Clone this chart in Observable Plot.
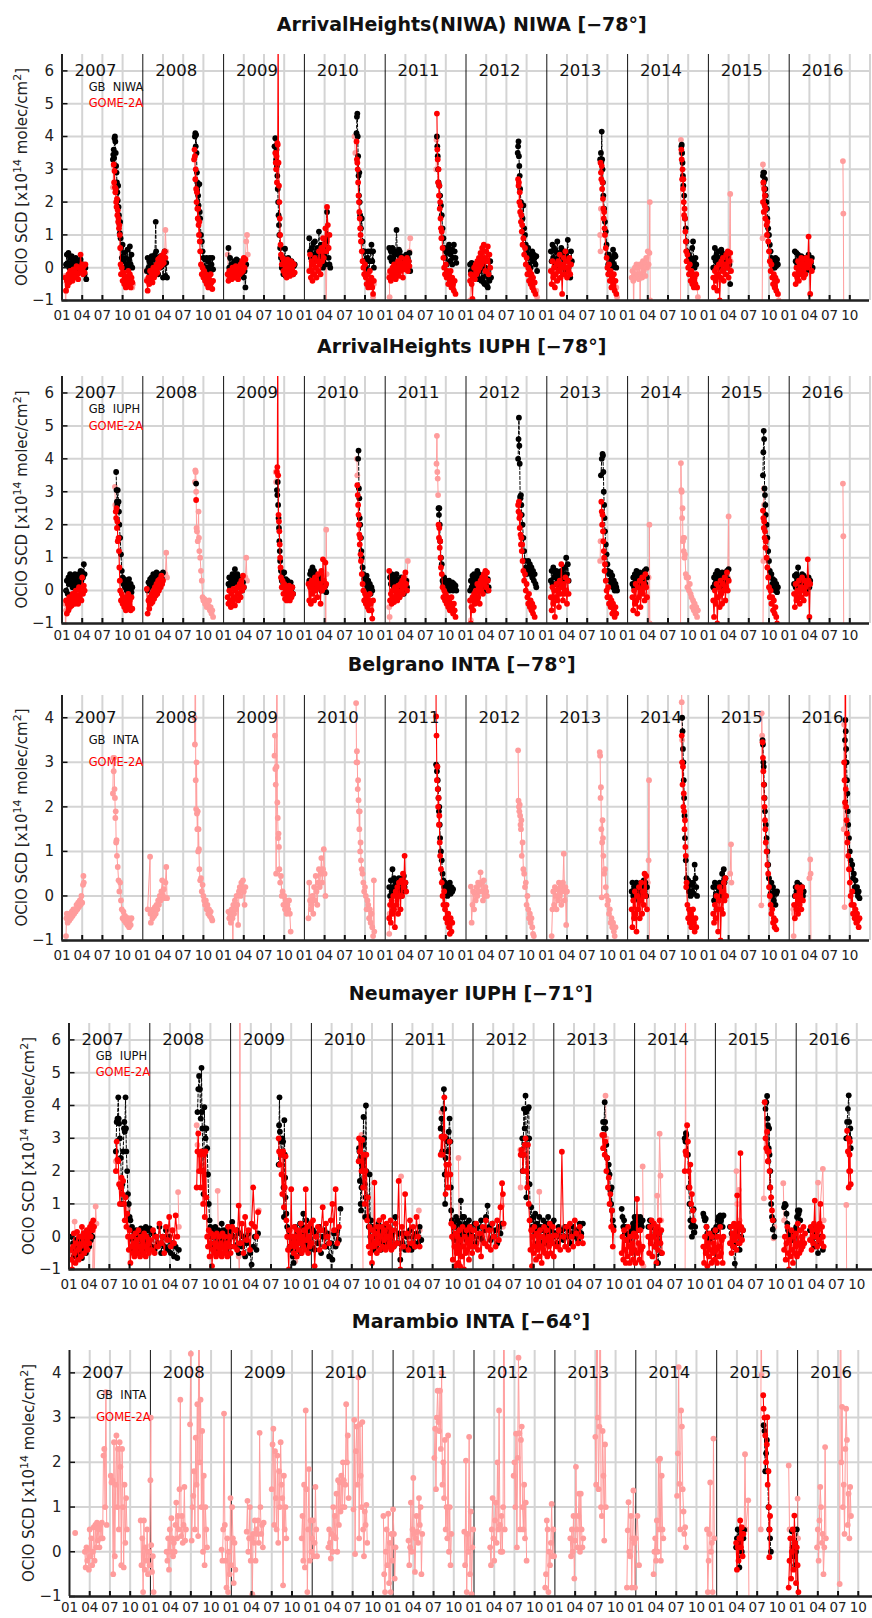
<!DOCTYPE html>
<html><head><meta charset="utf-8">
<script src="https://cdn.jsdelivr.net/npm/d3@7"></script>
<script src="https://cdn.jsdelivr.net/npm/@observablehq/plot@0.6"></script>
<style>
body{margin:0;background:#fff;}
#chart svg{display:block;overflow:hidden;}
</style></head><body><div id="chart"></div>
<script>
// ---------- DATA (segments: [year, yearFraction, value, yearFraction, value, ...]) ----------
const years = [2007,2008,2009,2010,2011,2012,2013,2014,2015,2016];
const monthLabels = ["01","04","07","10"];

// Panel 1: ArrivalHeights(NIWA) NIWA
const p1GB = [
[2007,.05,.1,.06,.4,.07,.15,.08,.45,.09,0,.10,.3,.11,.1,.12,.35,.13,0,.14,.2,.15,.05,.16,.1,.17,.3,.18,.15,.19,-.05,.20,.2,.21,.1,.22,0,.23,.25,.24,.1,.25,-.1,.26,.1,.27,-.05,.28,-.2,.29,0,.30,-.35],
[2007,.63,3.3,.635,3.45,.64,3.6,.645,3.35,.65,3.95,.655,4.0,.66,3.85,.665,3.5,.67,3.1,.675,2.9,.68,2.6,.685,2.3,.69,2.05,.695,2.5,.70,1.85,.705,1.6,.71,1.35,.715,1.05,.72,1.4,.725,.9,.73,.6,.74,.3,.75,.7,.76,.2,.77,.45,.78,0,.79,.3,.80,.1,.81,.55,.82,0,.83,.25,.84,.65,.85,.1,.86,.4,.87,0],
[2008,.05,-.1,.06,.3,.07,0,.08,.2,.09,-.2,.10,.1,.11,.35,.12,0,.13,.25,.14,-.1,.15,.4,.16,1.4,.165,.5,.17,.1,.18,.3,.19,-.2,.20,.2,.21,0,.22,.35,.23,.05,.24,.3,.25,-.3,.26,.1,.27,.5,.28,-.25,.29,.15,.30,-.3],
[2008,.645,4.0,.65,4.1,.655,3.7,.66,4.05,.665,3.5,.67,2.9,.675,2.6,.68,2.5,.685,2.2,.69,1.9,.70,2.55,.705,1.7,.71,1.5,.72,1.0,.73,.8,.74,.5,.75,.3,.76,0,.77,.25,.78,-.1,.79,.3,.80,0,.81,.2,.82,-.2,.83,.3,.84,-.1,.85,.1,.86,.3,.87,-.05],
[2009,.06,.6,.07,0,.08,.3,.09,-.1,.10,.1,.11,-.2,.12,.05,.13,.2,.14,-.1,.15,.1,.16,.25,.17,-.3,.18,0,.19,.2,.20,.15,.21,-.2,.22,.1,.23,0,.24,.2,.25,-.3,.26,-.1,.27,-.6,.28,.1],
[2009,.63,3.7,.64,3.95,.645,3.5,.65,3.3,.655,3.6,.66,3.1,.665,2.8,.67,2.4,.675,2.0,.68,1.6,.685,1.3,.69,1.0,.70,.6,.71,.3,.72,0,.73,.2,.74,-.2,.75,.1,.76,.58,.77,-.25,.78,0,.79,.2,.80,.3,.81,-.1,.82,-.1,.83,.1,.84,.2,.85,-.1,.86,-.2,.87,.05,.88,.1],
[2010,.06,.9,.07,.5,.08,.3,.09,.6,.10,.2,.11,.75,.12,.4,.13,.8,.14,.3,.15,.45,.16,.6,.17,.2,.18,1.1,.19,.5,.20,.2,.21,.7,.22,.35,.23,0,.24,.5,.25,.4,.26,.1,.27,.8,.28,1.7,.29,.6,.30,.3,.31,.1,.32,0],
[2010,.645,4.1,.65,4.6,.655,4.7,.66,4.0,.665,3.4,.67,2.8,.675,2.2,.68,2.9,.685,2.0,.69,1.6,.70,1.2,.71,1.5,.72,.8,.73,.5,.74,.2,.75,.5,.76,0,.77,.2,.78,.3,.79,.5,.80,-.1,.81,.2,.82,.5,.83,.7,.84,.2,.85,.5,.86,0],
[2011,.05,.6,.06,.3,.07,.5,.08,.2,.09,.6,.10,.3,.11,.45,.12,.1,.13,.5,.14,1.15,.15,.4,.16,.2,.17,.55,.18,.5,.19,.1,.20,.35,.21,.3,.22,.05,.23,0,.24,.2,.25,.35,.26,.4,.27,.1,.28,.3,.29,.2,.30,.45,.31,-.1],
[2011,.64,4.0,.645,3.7,.65,3.4,.655,3.0,.66,2.6,.67,2.5,.68,2.2,.69,1.9,.70,1.6,.71,1.2,.72,.9,.73,.6,.74,.3,.75,.5,.76,.1,.77,.6,.78,.45,.79,.7,.80,.2,.81,.4,.82,.55,.83,.1,.84,.3,.85,.7,.86,.5,.87,.3,.88,.15],
[2012,.05,.1,.06,-.1,.07,.15,.08,-.2,.09,.05,.10,-.3,.11,.1,.12,-.1,.13,0,.14,-.2,.15,.15,.16,-.35,.17,-.1,.18,.1,.19,-.4,.20,.1,.21,-.3,.22,-.45,.23,-.5,.24,0,.25,-.2,.26,-.55,.27,-.6,.28,-.3,.29,-.4,.30,.2,.31,-.3],
[2012,.64,3.5,.645,3.7,.65,3.85,.655,3.4,.66,3.1,.665,2.8,.67,2.4,.68,2.0,.69,1.9,.70,1.5,.71,1.9,.72,1.2,.73,1.0,.74,.7,.75,.5,.76,.3,.77,.6,.78,.1,.79,.4,.80,0,.81,.3,.82,.5,.83,.2,.84,.4,.85,.3,.86,.1,.87,.35,.88,-.1],
[2013,.05,.5,.06,.2,.07,.7,.08,.3,.09,.6,.10,.1,.11,.5,.12,.2,.13,.8,.14,.3,.15,0,.16,.45,.17,.4,.18,.6,.19,.1,.20,.3,.21,.5,.22,.25,.23,-.1,.24,.4,.25,.3,.26,.85,.27,0,.28,.2,.29,-.3,.30,.5,.31,.2],
[2013,.66,3.3,.67,3.5,.675,3.2,.68,4.15,.685,3.3,.69,3.0,.695,2.6,.70,2.2,.71,1.8,.72,1.4,.73,1.1,.74,.7,.75,.4,.76,.1,.77,.4,.78,-.1,.79,.3,.80,0,.81,.2,.82,.55,.83,.1,.84,.4,.85,.35,.86,0],
[2014,.665,3.7,.67,3.75,.675,3.5,.68,3.2,.685,2.8,.69,2.5,.70,2.2,.71,1.5,.72,1.2,.73,.8,.74,.5,.75,.2,.76,.4,.77,0,.78,.3,.79,.1,.80,.6,.81,.8,.82,.2,.83,0,.84,.3,.85,.1],
[2015,.06,0,.07,.3,.08,.6,.09,.2,.10,.4,.11,.1,.12,.5,.13,0,.14,.3,.15,.2,.16,.55,.17,.45,.18,.2,.19,.1,.20,.4,.21,.35,.22,.15,.23,0,.24,.3,.25,.2,.26,.1,.27,-.5],
[2015,.675,2.8,.68,2.9,.685,2.6,.69,2.9,.70,2.7,.705,2.4,.71,2.2,.72,2.0,.725,1.8,.73,1.5,.74,1.2,.75,1.0,.76,.7,.77,.5,.78,.3,.79,.1,.80,0,.81,.2,.82,0,.83,.3,.84,.05,.85,.25,.86,.1],
[2016,.07,.5,.08,.2,.09,.45,.10,.1,.11,.4,.12,0,.13,.3,.14,.1,.15,.35,.16,.2,.17,0,.18,.3,.19,.25,.20,.1,.21,-.1,.22,.3,.23,.2,.24,.4,.25,-.05,.26,.2,.27,.15,.28,.3,.29,0]
];
const p1GOME = [
[2007,.04,-.3,.05,-.7,.06,-.4,.07,-.55,.08,-.2,.09,-.45,.10,-.1,.11,-.35,.12,-.15,.13,-.4,.14,-.05,.15,-.3,.16,-.1,.17,-.25,.18,.05,.19,-.2,.20,-.35,.21,0,.22,-.15,.23,.4,.24,-.1,.25,.1,.26,-.2,.27,.05,.28,-.15,.29,.1],
[2007,.64,3.15,.645,2.6,.65,2.95,.655,2.45,.66,2.3,.665,2.4,.67,2.0,.675,1.85,.68,2.1,.685,1.6,.69,1.75,.695,1.4,.70,1.5,.705,1.2,.71,1.3,.715,1.0,.72,.6,.725,.1,.73,-.2,.74,0,.75,-.4,.76,-.15,.77,-.5,.78,-.25,.79,-.6,.80,-.3,.81,-.45,.82,-.1,.83,-.5,.84,-.2,.85,-.6,.86,-.3,.87,-.45],
[2008,.05,-.4,.06,-.7,.07,-.3,.08,-.5,.09,-.1,.10,-.35,.11,-.2,.12,-.45,.13,0,.14,-.3,.15,-.1,.16,-.2,.17,.1,.18,-.15,.19,.25,.20,0,.21,.3,.22,.05,.23,.35,.24,.1,.25,.4,.26,.15,.27,.5,.28,.3],
[2008,.635,3.3,.64,3.6,.645,3.4,.65,2.7,.655,3.0,.66,2.4,.665,2.0,.67,2.3,.675,1.8,.68,1.5,.685,1.8,.69,1.3,.695,1.0,.70,1.4,.705,.8,.71,.5,.72,.1,.73,-.2,.74,0,.75,-.3,.76,-.1,.77,-.4,.78,-.2,.79,-.5,.80,-.3,.81,-.6,.82,-.35,.83,-.5,.84,-.2,.85,-.45,.86,-.65,.87,-.4],
[2009,.05,-.2,.06,-.4,.07,-.1,.08,-.3,.09,-.15,.10,-.35,.11,0,.12,-.25,.13,-.1,.14,-.3,.15,.05,.16,-.2,.17,-.1,.18,-.35,.19,0,.20,-.2,.21,.1,.22,-.15,.23,.2,.24,-.1,.25,.3,.26,0,.27,.25],
[2009,.64,3.5,.645,3.2,.65,3.0,.655,3.4,.66,2.6,.665,3.8,.67,3.75,.675,8,.68,3.2,.685,2.5,.69,2.0,.695,1.5,.70,1.0,.705,.7,.71,.4,.72,.1,.73,.3,.74,-.1,.75,.2,.76,-.2,.77,.1,.78,-.3,.79,.25,.80,-.1,.81,.1,.82,-.25,.83,.2,.84,-.1,.85,.15,.86,-.2,.87,.1,.88,-.15],
[2010,.06,-.1,.07,.4,.08,-.3,.09,.2,.10,-.4,.11,.1,.12,-.2,.13,.3,.14,0,.15,-.3,.16,.2,.17,-.1,.18,.5,.19,.1,.20,-.2,.21,.6,.22,.2,.23,.9,.24,.3,.25,.7,.26,1.2,.27,.5,.28,1.85,.29,1.3,.30,.6,.31,1.0],
[2010,.645,3.85,.65,3.3,.655,3.2,.66,3.0,.665,2.6,.67,2.2,.675,2.0,.68,1.7,.685,1.5,.69,1.2,.695,1.0,.70,.8,.71,.5,.72,.2,.73,0,.74,-.2,.75,.1,.76,-.3,.77,-.5,.78,-.2,.79,-.6,.80,-.4,.81,-.1,.82,-.5,.83,-.3,.84,-.6,.85,-.8,.86,-.4],
[2011,.05,-.3,.06,-.1,.07,-.4,.08,-.2,.09,0,.10,-.3,.11,.1,.12,-.2,.13,-.35,.14,0,.15,-.1,.16,.2,.17,-.25,.18,.1,.19,-.1,.20,.3,.21,0,.22,-.3,.23,.15,.24,-.05,.25,.25,.26,0,.27,.3,.28,-.1,.29,.2,.30,.05],
[2011,.64,4.7,.645,3.6,.65,3.3,.655,2.6,.66,3.0,.665,2.2,.67,2.5,.675,1.8,.68,2.0,.685,1.5,.69,1.2,.695,.9,.70,1.1,.71,.6,.72,.3,.73,0,.74,-.2,.75,.1,.76,-.3,.77,-.1,.78,-.5,.79,-.2,.80,-.4,.81,-.1,.82,-.6,.83,-.3,.84,-.5,.85,-.7,.86,-.4,.87,-.8],
[2012,.05,-.4,.06,-.2,.07,-.5,.08,-.95,.09,-.3,.10,0,.11,-.35,.12,.1,.13,-.2,.14,.2,.15,-.1,.16,.3,.17,0,.18,.45,.19,.1,.20,.6,.21,.2,.22,.7,.23,.3,.24,-.1,.25,.5,.26,.2,.27,.65,.28,-.2,.29,.4,.30,0],
[2012,.645,2.7,.65,2.5,.655,2.6,.66,2.0,.665,2.3,.67,1.7,.675,1.9,.68,1.4,.685,1.6,.69,1.1,.695,1.3,.70,.7,.71,.9,.72,.4,.73,.6,.74,.1,.75,.3,.76,-.2,.77,0,.78,-.4,.79,-.1,.80,-.5,.81,-.2,.82,-.6,.83,-.3,.84,-.7,.85,-.45,.86,-.8],
[2013,.05,-.1,.06,-.5,.07,.2,.08,-.3,.09,0,.10,-.6,.11,-.2,.12,.1,.13,-.4,.14,.2,.15,-.1,.16,.4,.17,-.3,.18,.1,.19,-.8,.20,0,.21,.3,.22,-.2,.23,.5,.24,0,.25,-.3,.26,.2,.27,-.1,.28,.3,.29,-.2,.30,.1],
[2013,.665,3.2,.67,2.9,.675,2.7,.68,3.1,.685,2.4,.69,2.6,.695,2.1,.70,1.8,.705,1.5,.71,1.7,.715,1.2,.72,1.0,.73,.6,.74,.3,.75,0,.76,-.2,.77,.1,.78,-.4,.79,-.1,.80,-.6,.81,-.3,.82,-.5,.83,-.2,.84,-.7,.85,-.4,.86,-.8],
[2014,.665,3.6,.67,3.3,.675,2.7,.68,3.0,.685,2.4,.69,2.7,.695,2.0,.70,1.6,.705,1.8,.71,1.5,.715,1.1,.72,.8,.725,.5,.73,.2,.74,.4,.75,0,.76,-.2,.77,.1,.78,-.4,.79,-.1,.80,-.5,.81,-.2,.82,-.6,.83,-.3,.84,-.5,.85,-.2,.86,-.6],
[2015,.06,-.3,.07,-.6,.08,-.1,.09,-.4,.10,0,.11,-.7,.12,-.2,.13,.1,.14,-1.0,.15,-.3,.16,.2,.17,-.1,.18,.3,.19,-.4,.20,.1,.21,-.2,.22,.4,.23,0,.24,.5,.25,-.3,.26,.2,.27,.45,.28,-.1],
[2015,.675,2.0,.68,2.6,.685,1.7,.69,2.4,.695,1.9,.70,2.2,.705,1.5,.71,1.8,.72,1.3,.725,1.0,.73,1.4,.74,.8,.75,.5,.76,.2,.77,-.1,.78,.1,.79,-.3,.80,-.5,.81,-.2,.82,-.6,.83,-.3,.84,-.7,.85,-.4,.86,-.8],
[2016,.07,-.2,.08,-.5,.09,0,.10,-.3,.11,.2,.12,-.4,.13,.1,.14,-.2,.15,.3,.16,-.1,.17,.25,.18,-.3,.19,.1,.20,-.2,.21,.3,.22,0,.23,.2,.24,.95,.25,.1,.26,-.8,.27,.2,.28,-.1]
];
const p1All = [
[2007,.04,-.25,.045,-1.5,.05,-.7,.055,-.45],[2007,.63,2.45,.64,3.1],[2007,.86,-.35,.87,-.6,.88,-.5],
[2008,.04,-.1,.05,-.35],[2008,.27,.4,.28,1.15,.29,.5],
[2009,.05,.4,.06,-.3],[2009,.27,.3,.28,.8,.29,1.0,.30,.4],
[2010,.26,.3,.27,-1.5,.28,.8],[2010,.62,4.0,.63,3.5],[2010,.85,-.9,.86,-.5],
[2011,.05,-.2,.055,-.9,.06,-1.5],[2011,.30,.5,.31,.9],[2011,.63,3.0,.635,3.9],
[2012,.05,-1.0,.06,-.3],[2012,.87,-.7,.88,-.9],
[2013,.66,1.0,.665,.5,.67,1.8],[2013,.86,-.6,.87,-.9],
[2014,.05,-.3,.06,-.1,.07,-.4,.075,-1.5,.08,-.2,.09,0,.10,-.3,.11,.1,.12,-.2,.13,0,.14,-.35,.15,.1,.155,-1.5,.16,-.2,.17,.05,.18,-.3,.19,.2,.20,-.1,.21,.15,.22,-.25,.23,.3,.24,0,.25,.5,.26,.1,.27,.45,.275,2.0,.28,-1.0],
[2014,.655,-1.5,.66,3.9,.665,3.5],[2014,.86,-.6,.87,-.9],
[2015,.26,.3,.27,2.25,.275,.2],[2015,.665,-1.5,.67,.9,.675,3.15,.68,2.5],[2015,.86,-.8,.87,-1.0],
[2016,.665,3.25,.67,1.65,.675,-1.5]
];

// Panel 2: ArrivalHeights IUPH
const p2GB = [
[2007,.05,0,.06,.3,.07,-.1,.08,.4,.09,.2,.10,.5,.11,.25,.12,.45,.13,.1,.14,.4,.15,.2,.16,.5,.17,.3,.18,.1,.19,.45,.20,.2,.21,.5,.22,.25,.23,.6,.24,.3,.25,.55,.26,.4,.27,.8,.28,.5],
[2007,.67,3.6,.675,3.05,.68,2.7,.685,2.6,.69,3.05,.70,2.7,.705,2.4,.71,2.0,.72,1.6,.73,1.1,.74,.6,.75,.4,.76,.2,.77,.35,.78,.1,.79,.3,.80,0,.81,.2,.82,-.1,.83,.35,.84,.05,.85,.2,.86,-.05,.87,.1],
[2008,.06,0,.07,.25,.08,.1,.09,.35,.10,.15,.11,.4,.12,.2,.13,.5,.14,.3,.15,.45,.16,.2,.17,.55,.18,.35,.19,.5,.20,.3,.21,.45,.22,.25,.23,.5,.24,.35,.25,.55],
[2008,.66,3.25],
[2009,.06,.2,.07,.4,.08,.1,.09,.35,.10,.2,.11,.5,.12,.3,.13,.45,.14,.65,.15,.4,.16,.2,.17,.5,.18,.3,.19,.1,.20,.4,.21,.2,.22,.35,.23,0,.24,.25,.25,.1],
[2009,.66,3.05,.665,2.9,.67,3.3,.675,2.6,.68,2.2,.685,1.9,.69,1.5,.695,1.2,.70,.9,.71,.6,.72,.3,.73,.5,.74,.2,.75,.55,.76,.1,.77,.35,.78,0,.79,.3,.80,-.1,.81,.2,.82,0,.83,.25,.84,-.05,.85,.1,.86,-.1],
[2010,.06,.3,.07,.5,.08,.6,.09,.2,.10,.7,.11,.4,.12,.6,.13,.1,.14,.5,.15,.3,.16,.45,.17,.1,.18,.4,.19,.2,.20,.35,.21,0,.22,.3,.23,.1,.24,.2,.25,0,.26,.15,.27,-.05],
[2010,.665,4.0,.67,4.25,.675,3.1,.68,2.8,.685,2.2,.69,2.0,.70,1.6,.705,1.2,.71,1.0,.72,.7,.73,.5,.74,.35,.75,.4,.76,.2,.77,.45,.78,.1,.79,.3,.80,0,.81,.2,.82,-.1,.83,.1,.84,0],
[2011,.06,.4,.07,.2,.08,.5,.09,.3,.10,.45,.11,.1,.12,.4,.13,.25,.14,.5,.15,.2,.16,.35,.17,.05,.18,.3,.19,.15,.20,.4,.21,.1,.22,.3,.23,-.1,.24,.2,.25,0,.26,.3,.27,.1],
[2011,.66,2.5,.665,2.3,.67,2.5,.675,2.0,.68,1.5,.69,1.0,.70,.8,.71,.3,.72,.2,.73,.4,.74,.1,.75,.3,.76,0,.77,.25,.78,.1,.79,.3,.80,0,.81,.2,.82,.1,.83,.25,.84,0,.85,.2,.86,.05,.87,.15,.88,0],
[2012,.05,0,.06,.3,.07,.1,.08,.45,.09,.2,.10,.5,.11,.3,.12,.15,.13,.4,.14,.6,.15,.2,.16,.5,.17,.3,.18,.1,.19,.45,.20,.2,.21,.4,.22,0,.23,.5,.24,.2,.25,.3,.26,0,.27,.35,.28,.1],
[2012,.645,4.0,.65,4.6,.655,5.25,.66,4.4,.665,3.85,.67,2.85,.675,2.8,.68,2.9,.685,2.6,.69,2.3,.70,2.0,.71,1.6,.72,1.2,.73,.9,.74,.7,.75,.5,.76,.65,.77,.9,.78,.6,.79,.8,.80,.5,.81,.7,.82,.4,.83,.6,.84,.3,.85,.5,.86,.2,.87,.1],
[2013,.05,.3,.06,.6,.07,.2,.08,.7,.09,.4,.10,.55,.11,.2,.12,.6,.13,.35,.14,.5,.15,.1,.16,.45,.17,.3,.18,.6,.19,.2,.20,.5,.21,.3,.22,.7,.23,.4,.24,1.0,.25,.5,.26,.8,.27,.3],
[2013,.67,3.5,.68,4.0,.69,4.15,.695,4.1,.70,3.6,.705,3.0,.71,2.6,.715,2.2,.72,1.8,.73,1.4,.74,1.1,.75,.8,.76,.6,.77,.5,.78,.3,.79,.55,.80,.2,.81,.45,.82,.1,.83,.3,.84,0,.85,.2,.86,.1,.87,0],
[2014,.06,.2,.07,.4,.08,.1,.09,.5,.10,.3,.11,.6,.12,.2,.13,.45,.14,.3,.15,.55,.16,.1,.17,.4,.18,.2,.19,.5,.20,.3,.21,.6,.22,.2,.23,.65,.24,.4],
[2015,.06,.1,.07,.4,.08,.2,.09,.5,.10,.3,.11,.6,.12,.2,.13,.45,.14,.1,.15,.5,.16,.3,.17,.55,.18,.2,.19,.4,.20,.15,.21,.5,.22,.3,.23,.6,.24,.35,.25,.65],
[2015,.675,3.5,.68,4.2,.685,4.85,.69,4.6,.695,3.1,.70,2.9,.705,2.6,.71,2.3,.72,2.0,.73,1.6,.74,1.2,.75,.9,.76,.6,.77,.4,.78,.5,.79,.2,.80,.35,.81,.1,.82,.3,.83,0,.84,.2,.85,-.05,.86,.1],
[2016,.06,.2,.07,.45,.08,.1,.09,.5,.10,.3,.11,.7,.12,.2,.13,.4,.14,.1,.15,.35,.16,.5,.17,.2,.18,.45,.19,.1,.20,.3,.21,0,.22,.35,.23,.2,.24,.4,.25,.1,.26,.3]
];
const p2GOME = [
[2007,.05,-.3,.06,-.7,.07,-.4,.08,-.6,.09,-.2,.10,-.5,.11,-.3,.12,-.45,.13,-.1,.14,-.35,.15,-.2,.16,-.4,.17,0,.18,-.3,.19,-.15,.20,-.4,.21,.1,.22,-.2,.23,0,.24,-.3,.25,.4,.26,-.1,.27,.15,.28,0],
[2007,.665,2.4,.67,2.2,.675,2.5,.68,1.9,.685,2.1,.69,1.5,.70,1.6,.705,1.2,.71,.7,.715,.3,.72,0,.73,-.3,.74,-.1,.75,-.4,.76,-.2,.77,-.5,.78,-.3,.79,-.6,.80,-.2,.81,-.45,.82,-.1,.83,-.5,.84,-.3,.85,-.6,.86,-.2,.87,-.55],
[2008,.05,.05,.06,-.7,.07,-.3,.08,-.55,.09,-.2,.10,-.4,.11,-.1,.12,-.35,.13,0,.14,-.25,.15,.1,.16,-.15,.17,.2,.18,-.1,.19,.3,.20,0,.21,.35,.22,.1,.23,.45,.24,.2,.25,.3],
[2008,.66,2.75],
[2009,.05,-.2,.06,-.4,.07,0,.08,-.3,.09,-.5,.10,-.1,.11,-.35,.12,.05,.13,-.2,.14,-.45,.15,0,.16,-.25,.17,.1,.18,-.3,.19,-.1,.20,.2,.21,-.2,.22,.3,.23,0,.24,.45,.25,.1],
[2009,.66,3.6,.665,3.75,.67,8,.675,3.5,.68,2.3,.685,2.1,.69,1.8,.695,1.4,.70,1.0,.705,.7,.71,.4,.72,.1,.73,.3,.74,-.1,.75,.2,.76,-.25,.77,0,.78,-.3,.79,.1,.80,-.2,.81,.15,.82,-.3,.83,.05,.84,-.2,.85,.1,.86,-.1],
[2010,.05,.2,.06,-.3,.07,.1,.08,-.4,.09,.3,.10,-.1,.11,.2,.12,-.3,.13,.4,.14,0,.15,.3,.16,-.2,.17,.5,.18,.1,.19,.2,.20,-.4,.21,.6,.22,0,.23,.95,.24,.3,.25,.1,.26,.85,.27,.2],
[2010,.655,3.2,.66,2.9,.665,2.6,.67,2.3,.675,2.0,.68,1.7,.685,1.4,.69,1.6,.695,1.1,.70,.9,.71,.5,.72,.2,.73,0,.74,-.3,.75,-.1,.76,-.4,.77,-.2,.78,-.5,.79,-.3,.80,-.6,.81,-.1,.82,-.4,.83,-.6,.84,-.85,.85,-.3],
[2011,.05,.6,.06,-.3,.07,-.1,.08,-.4,.09,0,.10,-.2,.11,-.35,.12,.1,.13,-.25,.14,0,.15,-.3,.16,.15,.17,-.1,.18,-.2,.19,.2,.20,0,.21,.3,.22,-.1,.23,.4,.24,.1,.25,.55,.26,.2,.27,0],
[2011,.66,2.0,.665,1.6,.67,1.9,.675,1.3,.68,1.5,.685,1.0,.69,.7,.70,.5,.71,.1,.72,-.2,.73,0,.74,-.3,.75,-.1,.76,-.4,.77,-.2,.78,-.5,.79,-.3,.80,-.6,.81,-.4,.82,-.2,.83,-.5,.84,-.7,.85,-.4,.86,-.6,.87,-.8],
[2012,.05,-.3,.06,-1.0,.07,-.5,.08,-.2,.09,-.6,.10,-.1,.11,-.4,.12,0,.13,-.3,.14,.2,.15,-.2,.16,.1,.17,-.4,.18,.3,.19,0,.20,.4,.21,-.1,.22,.5,.23,.2,.24,.6,.25,.1,.26,.55,.27,.3,.28,0],
[2012,.645,2.6,.65,2.4,.655,2.7,.66,2.2,.665,1.9,.67,2.3,.675,1.7,.68,1.4,.685,1.6,.69,1.2,.695,1.4,.70,.9,.71,.6,.72,.3,.73,.5,.74,0,.75,.2,.76,-.2,.77,-.4,.78,-.1,.79,-.5,.80,-.3,.81,-.6,.82,-.4,.83,-.7,.84,-.5,.85,-.8],
[2013,.05,-.2,.06,-.6,.07,.1,.08,-.4,.09,0,.10,-.8,.11,-.2,.12,.2,.13,-.3,.14,.05,.15,-.5,.16,.3,.17,-.1,.18,.8,.19,.1,.20,-.3,.21,.2,.22,-.1,.23,.4,.24,0,.25,-.4,.26,.3,.27,-.1],
[2013,.675,2.7,.68,2.4,.685,2.0,.69,2.3,.695,1.8,.70,1.5,.705,1.2,.71,1.0,.715,.6,.72,.8,.73,.3,.74,0,.75,-.2,.76,.1,.77,-.4,.78,-.2,.79,-.5,.80,-.3,.81,-.7,.82,-.4,.83,-.6,.84,-.8,.85,-.5,.86,-.7],
[2014,.06,-.2,.07,-.6,.08,0,.09,-.4,.10,.2,.11,-.3,.12,-.7,.13,.1,.14,-.2,.15,.3,.16,-.5,.17,0,.18,.4,.19,-.1,.20,.2,.21,-.3,.22,.5,.23,.1,.24,-.2],
[2015,.06,-.3,.07,-.8,.08,0,.09,-.4,.10,.2,.11,-1.0,.12,-.2,.13,.1,.14,-.5,.15,.3,.16,-.1,.17,-.4,.18,.2,.19,0,.20,.4,.21,-.3,.22,.1,.23,.55,.24,0,.25,.3],
[2015,.675,2.43,.68,2.2,.685,1.9,.69,2.1,.695,1.6,.70,1.8,.705,1.3,.71,1.5,.72,1.0,.73,.7,.74,.4,.75,.1,.76,-.2,.77,0,.78,-.4,.79,-.2,.80,-.6,.81,-.3,.82,-.7,.83,-.5,.84,-.8,.85,-1.0],
[2016,.06,-.1,.07,-.5,.08,.2,.09,-.3,.10,0,.11,-.2,.12,.3,.13,-.4,.14,.1,.15,-.2,.16,.4,.17,0,.18,-.3,.19,.3,.20,.1,.21,-.1,.22,.2,.23,.95,.24,.3,.25,-.8,.26,.2]
];
const p2All = [
[2007,.04,-.4,.045,-1.5,.05,-.6],[2007,.655,3.15,.66,2.6],
[2008,.28,.5,.29,1.15,.30,.4],
[2008,.645,3.3,.65,3.65,.655,3.6,.66,3.0,.665,1.9,.67,1.8,.68,1.5,.69,2.4,.695,1.6,.70,1.2,.71,1.0,.72,.6,.73,.3,.74,-.2,.75,-.3,.76,-.25,.77,-.4,.78,-.3,.79,-.5,.80,-.35,.81,-.45,.82,-.3,.83,-.6,.84,-.5,.85,-.7,.86,-.6,.87,-.8],
[2009,.27,.4,.28,1.0,.29,.3],[2009,.645,3.6,.65,3.3],
[2010,.26,.2,.265,-1.5,.27,1.85,.275,.5],[2010,.65,4.0,.655,3.5],
[2011,.05,-.5,.055,-.8,.06,-1.5],[2011,.27,.3,.28,.9],[2011,.635,3.85,.64,4.7,.645,3.6,.65,3.4,.655,2.9],
[2012,.06,-.9,.065,-.5],
[2013,.66,.9,.665,1.5],
[2014,.26,.4,.265,-1.5,.27,2.0,.275,-1.0],
[2014,.655,-1.5,.66,3.87,.665,3.05,.67,3.0,.675,2.2,.68,2.5,.685,1.5,.69,1.6,.695,1.2,.70,1.6,.705,1.0,.71,1.1,.72,.5,.73,.4,.74,.1,.75,.4,.76,0,.77,.2,.78,-.1,.79,-.2,.80,-.5,.81,-.3,.82,-.6,.83,-.4,.84,-.7,.85,-.5,.86,-.8,.87,-.6],
[2015,.24,.4,.25,2.25,.255,.3],[2015,.675,-1.5,.68,.9,.685,3.1,.69,2.6],
[2016,.665,3.25,.67,1.65,.675,-1.5]
];

// Panel 3: Belgrano INTA
const p3GB = [
[2011,.05,.2,.06,0,.07,.35,.08,.1,.09,.6,.10,.2,.11,.4,.12,.1,.13,.3,.14,0,.15,.25,.16,.1,.17,.4,.18,.15,.19,.3,.20,0,.21,.35,.22,.1,.23,.45,.24,.2,.25,.3],
[2011,.63,2.95,.64,2.8,.645,2.9,.65,2.6,.655,2.4,.66,2.2,.665,1.9,.67,2.0,.675,1.6,.68,1.3,.69,1.0,.70,.8,.71,.5,.72,.35,.73,.2,.74,.3,.75,.1,.76,.25,.77,0,.78,.2,.79,.1,.80,.3,.81,.05,.82,.2,.83,.1,.84,.15],
[2014,.05,.1,.06,.3,.07,0,.08,.2,.09,.25,.10,0,.11,.3,.12,.1,.13,.2,.14,-.1,.15,.25,.16,0,.17,.3,.18,.1,.19,.2,.20,.35,.21,.1,.22,.3,.23,0,.24,.2],
[2014,.675,4.0,.68,3.7,.685,3.3,.69,3.0,.695,2.6,.70,2.2,.705,1.8,.71,1.3,.72,.8,.73,.4,.74,.2,.75,.35,.76,.1,.77,.3,.78,0,.79,.25,.80,.1,.81,.3,.82,.05,.83,.7,.84,.4,.85,.2,.86,0],
[2015,.06,.2,.07,-.1,.08,.3,.09,0,.10,-.3,.11,.2,.12,-.1,.13,.1,.14,.3,.15,0,.16,.2,.17,.5,.18,.1,.19,.6,.20,.3,.21,.4],
[2015,.67,3.5,.675,3.4,.68,3.0,.685,2.9,.69,2.5,.695,2.2,.70,1.9,.71,1.6,.72,1.3,.73,1.0,.74,.7,.75,.4,.76,.2,.77,.05,.78,.3,.79,0,.80,.2,.81,-.1,.82,.1,.83,-.2,.84,.05,.85,.1],
[2016,.07,0,.08,.2,.09,.1,.10,.3,.11,0,.12,.2,.13,.25,.14,-.1,.15,.1,.16,.2,.17,0,.18,.1],
[2016,.69,3.5,.695,3.95,.70,3.7,.705,3.3,.71,3.0,.715,2.6,.72,2.3,.725,1.9,.73,1.6,.74,1.3,.75,1.0,.76,.8,.77,.6,.78,.7,.79,.4,.80,.5,.81,.2,.82,.35,.83,.1,.84,.2,.85,0,.86,.1,.87,-.05]
];
const p3GOME = [
[2011,.05,-.5,.06,-.2,.07,-.6,.08,-.1,.09,-.4,.10,0,.11,-.3,.12,-.7,.13,.1,.14,-.2,.15,.2,.16,-.4,.17,.3,.18,0,.19,-.3,.20,.35,.21,0,.22,.5,.23,.2,.24,.9,.25,.3,.26,.1],
[2011,.625,8,.63,4.03,.635,3.6,.64,2.6,.645,2.9,.65,2.4,.655,2.0,.66,2.2,.665,1.6,.67,1.8,.675,1.2,.68,.9,.69,.6,.70,.3,.71,0,.72,-.2,.73,.1,.74,-.3,.75,-.5,.76,-.2,.77,-.6,.78,-.4,.79,-.7,.80,-.85,.81,-.5,.82,-.8,.83,-.6],
[2014,.05,-.3,.06,-.7,.07,-.1,.08,-.5,.09,.1,.10,-.4,.11,-.8,.12,0,.13,-.3,.14,.2,.15,-.5,.16,-.1,.17,.3,.18,-.4,.19,.1,.20,-.2,.21,.5,.22,0,.23,.45,.24,-.3],
[2014,.67,3.6,.675,3.0,.68,2.5,.685,2.9,.69,2.0,.695,2.3,.70,1.9,.705,1.5,.71,1.7,.715,1.1,.72,.9,.725,.2,.73,.3,.74,-.2,.75,-.5,.76,-.3,.77,-.6,.78,-.4,.79,-.7,.80,-.5,.81,-.3,.82,-.6,.83,-.8,.84,-.5,.85,-.7],
[2015,.06,-.4,.07,-.6,.08,-.2,.09,-.5,.10,0,.11,-.3,.12,-.8,.13,-.1,.14,.2,.15,-1.0,.16,-.3,.17,.1,.18,-.4,.19,.3,.20,-.1,.21,.4,.22,0],
[2015,.67,3.45,.675,3.1,.68,2.8,.685,2.5,.69,2.2,.695,2.0,.70,1.7,.705,1.5,.71,1.2,.72,1.0,.73,.7,.74,.5,.75,.2,.76,0,.77,-.2,.78,-.4,.79,-.3,.80,-.6,.81,-.5,.82,-.7,.83,-.55,.84,-.75],
[2016,.06,-.2,.07,-.5,.08,0,.09,-.3,.10,.2,.11,-.4,.12,0,.13,-.2,.14,.1,.15,-.3,.16,.2,.17,-.1],
[2016,.68,3.0,.685,2.6,.69,2.1,.695,8,.70,2.4,.705,2.0,.71,1.7,.715,1.4,.72,1.2,.73,.9,.74,.6,.75,.3,.76,0,.77,-.2,.78,.1,.79,-.4,.80,-.2,.81,-.5,.82,-.3,.83,-.6,.84,-.4,.85,-.55,.86,-.7,.87,-.5]
];
const p3All = [
[2007,.05,-.9,.055,-.5,.06,-.4,.07,-.6,.08,-.45,.09,-.55,.10,-.4,.11,-.5,.12,-.35,.13,-.45,.14,-.3,.15,-.4,.16,-.3,.17,-.35,.18,-.2,.19,-.3,.20,-.15,.21,-.25,.22,-.1,.23,-.2,.24,0,.25,-.15,.26,.25,.265,.45,.27,.3],
[2007,.63,2.3,.635,3.1,.64,2.8,.645,3.1,.65,2.4,.655,2.2,.66,1.75,.665,1.9,.67,1.2,.675,1.25,.68,.9,.69,.65,.70,.35,.71,.1,.72,.3,.73,-.1,.74,-.3,.75,-.5,.76,-.35,.77,-.55,.78,-.45,.79,-.6,.80,-.5,.81,-.65,.82,-.5,.83,-.7,.84,-.55,.85,-.65,.86,-.5],
[2008,.06,-.3,.09,.88,.095,-.4,.10,-.6,.11,-.35,.12,-.5,.13,-.3,.14,-.45,.15,-.25,.16,-.4,.17,-.2,.18,-.3,.19,-.1,.20,-.2,.21,0,.22,-.1,.23,.1,.24,.35,.25,0,.26,.15,.27,-.05,.28,.3,.29,.65,.30,-.05],
[2008,.64,4.0,.645,3.4,.65,8,.655,2.6,.66,1.95,.665,3.0,.67,1.85,.675,1.5,.68,1.9,.685,1.0,.69,1.5,.695,1.05,.70,.6,.71,.35,.72,.4,.73,.1,.74,.25,.75,0,.76,-.1,.77,-.2,.78,-.1,.79,-.3,.80,-.2,.81,-.4,.82,-.3,.83,-.45,.84,-.35,.85,-.5,.86,-.55],
[2009,.06,-.35,.07,-.5,.08,-.4,.09,-.6,.10,-.3,.11,-.5,.115,-1.5,.12,-.2,.13,-.4,.14,-.1,.15,-.3,.16,0,.17,-.2,.18,-.65,.19,.1,.20,.2,.21,0,.22,.3,.23,.15,.24,.35,.25,.1,.26,-.2,.27,.2],
[2009,.63,3.15,.635,3.6,.64,2.85,.645,2.5,.65,.5,.655,2.9,.66,8,.665,2.1,.67,1.75,.675,1.3,.68,1.4,.685,1.1,.69,.6,.70,.3,.71,.45,.72,0,.73,.1,.74,-.2,.75,0,.76,-.3,.77,-.1,.78,-.4,.79,-.2,.80,-.3,.81,-.1,.82,-.4,.83,-.8],
[2010,.05,-.5,.06,.3,.07,-.1,.08,-.3,.09,-.2,.10,0,.11,-.4,.12,.2,.13,-.1,.14,.45,.15,.1,.16,-.2,.17,.3,.18,.6,.19,.2,.20,.5,.21,.85,.22,.3,.23,.6,.24,1.05,.25,.5,.26,0],
[2010,.64,4.33,.645,3.0,.65,3.25,.655,3.0,.66,2.4,.665,2.6,.67,2.15,.675,1.9,.68,1.5,.685,1.9,.69,1.0,.695,1.2,.70,.8,.71,.6,.72,.5,.73,.3,.74,.1,.75,.2,.76,0,.77,-.3,.78,-.1,.79,-.2,.80,-.5,.81,-.3,.82,-.6,.83,-.4,.84,-.7,.85,-.9,.86,.35,.865,-.8],
[2011,.05,-.85,.055,-.4],
[2012,.06,.21,.07,-.6,.08,-.2,.09,.1,.10,-.3,.11,.05,.12,-.1,.13,.2,.14,0,.15,.3,.16,.1,.17,.25,.18,.53,.19,.1,.20,.3,.21,-.1,.22,.35,.23,0,.24,.2,.25,.1,.26,0],
[2012,.645,3.27,.65,2.14,.655,2.0,.66,1.9,.665,2.05,.67,1.8,.675,1.6,.68,1.5,.685,1.7,.69,.9,.70,1.2,.71,.6,.72,.5,.73,.2,.74,.3,.75,-.2,.76,0,.77,-.3,.78,-.5,.79,-.4,.80,-.6,.81,-.5,.82,-.7,.83,-.85,.84,-.9],
[2013,.06,-.9,.07,-.3,.08,.1,.09,-.2,.10,.2,.11,0,.12,-.3,.13,.15,.14,-.1,.15,.3,.16,0,.17,.2,.18,-.2,.19,.1,.20,.3,.21,.95,.22,-.1,.23,.2,.24,-.65,.25,.1],
[2013,.655,3.23,.66,3.15,.665,2.2,.67,2.44,.675,1.5,.68,-.03,.685,1.2,.69,1.7,.695,1.3,.70,.9,.71,.5,.72,.6,.73,.2,.74,0,.75,-.2,.76,-.1,.77,-.4,.78,-.3,.79,-.6,.80,-.5,.81,-.7,.82,-.6,.83,-.8,.84,-.9,.85,-.7],
[2014,.25,.3,.26,.8,.265,2.6,.27,-1.5],[2014,.665,8,.67,4.35,.675,3.5],
[2015,.27,.5,.28,1.16,.285,.3],[2015,.655,-.21,.66,4.1,.665,3.6],
[2016,.05,-.3,.055,-.9,.06,-.4],[2016,.25,.4,.26,.82,.265,.5,.27,-1.5],[2016,.675,1.5,.68,3.85,.685,-.25,.69,2.0]
];

// Panel 4: Neumayer IUPH
const p4GB = [
[2007,.03,0,.04,-.4,.05,-.2,.06,-.6,.07,-.3,.08,-.5,.09,-.1,.10,-.4,.11,-.6,.12,-.2,.13,-.5,.14,0,.15,-.3,.16,-.65,.17,-.1,.18,-.4,.19,.1,.20,-.3,.21,-.5,.22,0,.23,-.2,.24,.15,.25,-.3,.26,.1,.27,-.1,.28,.2,.29,0,.30,.3],
[2007,.58,2.6,.59,3.5,.60,3.6,.61,4.25,.615,3.6,.62,3.45,.63,3.0,.64,2.4,.65,1.5,.655,1.0,.66,1.6,.67,2.6,.68,3.3,.685,3.5,.69,3.2,.70,4.25,.705,3.3,.71,2.6,.72,2.0,.73,1.3,.74,1.0,.75,.6,.76,.5,.77,.2,.78,.3,.79,-.1,.80,-.4,.81,.1,.82,-.4,.83,.2,.84,-.3,.85,0,.86,-.5,.87,.15,.88,-.3,.89,.25,.90,-.1,.91,.1,.92,-.4,.93,.2,.94,-.2,.95,.3,.96,0,.97,-.3,.98,.2,.99,-.1,1.0,.25,1.02,-.3,1.04,.1,1.06,-.4,1.08,0,1.10,-.2,1.12,.3,1.14,-.5,1.16,0,1.18,-.3,1.20,.2,1.22,-.4,1.24,0,1.26,-.5,1.28,-.2,1.30,-.6,1.32,-.3,1.34,-.65,1.36,-.4],
[2008,.59,3.8,.60,4.5,.61,4.9,.62,4.5,.63,3.6,.64,5.15,.645,3.8,.65,3.3,.655,2.6,.66,2.0,.665,1.3,.67,2.5,.675,3.95,.68,3.3,.69,3.0,.70,3.3,.71,2.7,.72,1.9,.73,1.0,.74,.5,.75,.3,.76,0,.77,.2,.78,-.3,.79,.1,.80,-.4,.81,.3,.82,-.2,.83,0,.84,-.5,.85,.2,.86,-.3,.87,.1,.88,-.1,.89,.4,.90,0,.91,-.3,.92,.2,.93,-.2,.94,.1,.95,-.4,.96,0,.97,.3,.98,-.1,.99,.2,1.0,-.3,1.02,.45,1.04,0,1.06,-.3,1.08,.2,1.10,-.5,1.12,.1,1.14,-.3,1.16,0,1.18,-.6,1.20,-.2,1.22,.1,1.24,-.5,1.26,-.85,1.28,-.3,1.30,0,1.32,-.4,1.34,.1],
[2009,.595,2.2,.60,3.4,.605,4.25,.61,3.2,.62,2.9,.63,2.5,.64,3.0,.65,2.9,.655,1.5,.66,.6,.665,3.55,.67,2.5,.675,1.8,.68,1.2,.69,.7,.70,.3,.71,0,.72,.2,.73,-.3,.74,0,.75,-.4,.76,-.2,.77,-.6,.78,-.8,.79,-.1,.80,.3,.81,-.3,.82,.2,.83,-.4,.84,.1,.85,-.2,.86,.4,.87,-.5,.88,0,.89,.3,.90,.7,.91,-.3,.92,.1,.93,-.2,.94,.5,.95,0,.96,-.4,.97,.2,.98,-.1,.99,.3,1.0,-.3,1.02,.2,1.04,-.4,1.06,.1,1.08,-.2,1.10,.3,1.12,-.5,1.14,0,1.16,.2,1.18,-.3,1.20,.1,1.22,-.6,1.24,-.2,1.26,-.7,1.28,.1,1.30,-.3,1.32,.2,1.34,-.1,1.36,.85],
[2010,.59,2.7,.595,2.6,.60,1.7,.605,2.4,.61,1.0,.615,.8,.62,1.5,.63,2.2,.64,2.8,.645,3.65,.65,3.0,.655,2.4,.66,1.6,.665,.6,.67,1.2,.675,4.0,.68,2.0,.69,1.2,.70,.6,.71,.3,.72,1.9,.73,0,.74,.5,.75,-.2,.76,.3,.77,-.4,.78,0,.79,.2,.80,-.3,.81,.1,.82,-.2,.83,.4,.84,-.1,.85,.2,.86,-.4,.87,0,.88,.3,.89,-.2,.90,.1,.91,-.3,.92,.2,.93,-.1,.94,.3,.95,-.2,.96,.1,.97,-.3,.98,.2,.99,0,1.0,.1,1.02,-.3,1.04,.6,1.06,-.2,1.08,.1,1.10,-.7,1.12,-.2,1.14,.1,1.16,-.4,1.18,0,1.20,-.3,1.22,.2,1.24,-.4,1.26,0,1.28,-.3,1.30,.1,1.32,-.2,1.34,.3,1.36,-.1],
[2011,.60,3.3,.61,3.6,.62,2.6,.63,3.9,.64,4.5,.645,3.9,.65,1.9,.655,1.0,.66,2.4,.67,3.0,.68,2.9,.69,2.6,.70,3.2,.71,3.6,.72,2.9,.725,1.5,.73,.8,.74,.5,.75,0,.76,.4,.77,-.1,.78,.3,.79,.6,.80,.1,.81,.5,.82,-.2,.83,.4,.84,0,.85,1.1,.86,.3,.87,.6,.88,.1,.89,.6,.90,.2,.91,.4,.92,-.1,.93,.3,.94,0,.95,.5,.96,.1,.97,.3,.98,-.2,.99,.2,1.0,0,1.02,.4,1.04,-.2,1.06,.3,1.08,0,1.10,.5,1.12,-.1,1.14,.2,1.16,.6,1.18,.95,1.20,.3,1.22,-.1,1.24,.4,1.26,0,1.28,.2,1.30,-.2,1.32,.3,1.34,.1,1.36,.4],
[2012,.60,2.5,.61,3.0,.615,2.0,.62,2.5,.63,3.9,.64,3.3,.65,4.3,.655,3.8,.66,1.2,.67,3.0,.68,3.9,.69,3.95,.695,3.0,.70,1.6,.71,.5,.72,.9,.73,.3,.74,0,.75,.6,.76,.2,.77,.7,.78,.1,.79,.4,.80,-.2,.81,.3,.82,.6,.83,0,.84,.3,.85,-.3,.86,.2,.87,.5,.88,0,.89,.3,.90,-.2,.91,.4,.92,.1,.93,.6,.94,0,.95,.3,.96,-.1,.97,.2,.98,.4,.99,0,1.0,.5,1.02,.1,1.04,-.2,1.06,.3,1.08,0,1.10,.2,1.12,-.1,1.14,.3,1.16,0,1.18,.2,1.20,-.2,1.22,.1,1.24,.3,1.26,0,1.28,.2,1.30,-.1,1.32,.4,1.34,.1,1.36,.4],
[2013,.61,3.5,.62,3.3,.63,4.1,.635,3.5,.64,3.3,.65,2.8,.66,2.4,.67,2.0,.68,2.2,.69,1.9,.70,1.4,.71,1.0,.715,1.5,.72,.8,.73,.5,.74,.3],
[2013,.84,.85,.85,.6,.86,.3,.87,.5,.88,.1,.89,.3,.90,-.1,.91,.1,.92,-.1,.93,0,.94,-.1,.95,0,.96,.2,.97,.1,.98,.4,.99,.3,1.0,.6,1.01,.5,1.02,.2,1.03,.6,1.04,.3,1.05,.5,1.06,.2,1.07,.6,1.08,.4,1.09,.3,1.10,.5],
[2013,1.17,.3,1.19,.5,1.21,0,1.23,.4,1.25,-.3,1.27,.2,1.29,-.8,1.31,.1,1.33,-.5],
[2014,.62,3.0,.63,2.9,.635,3.16,.64,3.1,.65,2.9,.66,2.5,.67,1.5,.68,1.0,.69,.5,.70,.3,.71,0,.72,.4,.73,.84,.74,.13,.75,.3],
[2014,.85,.7,.86,.6,.87,.5,.88,.55,.89,.3,.90,.1,.91,0,.92,-.1,.93,0,.94,-.05,.95,0,.96,.1,.97,0,.98,.2,.99,.1,1.0,0,1.01,.3,1.02,.2,1.03,.5,1.04,.6,1.05,.4,1.06,.65,1.07,.5,1.08,.6,1.09,.3,1.10,.65],
[2014,1.18,.3,1.20,.1,1.22,-.3,1.24,-.82,1.26,-.2,1.28,.2,1.30,-.4,1.32,0,1.34,.2],
[2015,.62,3.9,.63,4.1,.64,4.29,.645,3.6,.65,3.4,.655,2.3,.66,2.7,.665,3.3,.67,2.5,.675,1.5,.68,2.0,.69,1.0,.70,.6,.71,.22,.72,.5,.73,0],
[2015,.85,.9,.86,1.0,.87,.96,.88,.7,.89,.4,.90,.2,.91,0,.92,.1,.93,-.1,.94,0,.95,-.1,.96,.05,.97,0,.98,.2,.99,.1,1.0,.3,1.01,.6,1.02,.8,1.03,.7,1.04,.8,1.05,.5],
[2015,1.17,.2,1.19,-.1,1.21,.3,1.23,-.3,1.25,.1,1.27,-.5,1.29,-.2,1.31,0,1.33,-.4],
[2016,.62,3.0,.63,3.5,.64,3.9,.65,4.31,.655,3.5,.66,3.0,.67,3.3,.675,2.7]
];
const p4GOME = [
[2007,.02,-.4,.03,-.7,.04,-1.0,.05,-.3,.06,.1,.07,-.5,.08,-.8,.09,-.2,.10,.15,.11,-.4,.12,-.7,.13,0,.14,-.3,.15,-.6,.16,.3,.17,-.2,.18,.1,.19,-.5,.20,0,.21,-.3,.22,.2,.23,-.4,.24,.1,.25,-.2,.26,.3,.27,0,.28,.4,.29,.2,.30,.5,.31,.3],
[2007,.58,2.0,.59,2.9,.60,2.35,.61,2.3,.62,1.6,.63,1.0,.64,1.5,.65,1.8,.66,1.3,.67,1.7,.68,1.0,.69,.5,.70,1.2,.71,.3,.72,.7,.73,0,.74,-.4,.75,.2,.76,-.8,.77,-.3,.78,0,.79,-.5,.80,-.2,.81,-.6,.82,.1,.83,-.4,.84,-.1,.85,-.5,.86,.2,.87,-.3,.88,-.6,.89,0,.90,-.4,.91,-.1,.92,-.5,.93,.1,.94,-.3,.95,-.6,.96,0,.97,-.4,.98,-.2,.99,-.5,1.0,-.1,1.02,-.4,1.04,.2,1.06,-.5,1.08,0,1.10,-.3,1.12,.4,1.14,-.2,1.16,0,1.18,-.5,1.20,.3,1.22,-.1,1.24,.6,1.26,-.3,1.28,.2,1.30,-.2,1.32,.65,1.34,0],
[2008,.58,1.5,.59,2.6,.60,3.15,.61,2.0,.62,2.5,.63,1.5,.64,2.6,.65,2.0,.66,1.0,.67,2.5,.68,.6,.69,2.6,.70,1.2,.71,0,.72,-.3,.73,.2,.74,-.6,.75,-.2,.76,.1,.77,-.9,.78,-.4,.79,0,.80,-.5,.81,-.2,.82,-.6,.83,.1,.84,-.3,.85,-.5,.86,0,.87,-.4,.88,-.2,.89,-.6,.90,.1,.91,-.3,.92,-.5,.93,0,.94,-.4,.95,-.2,.96,-.6,.97,.3,.98,-.3,.99,0,1.0,-.5,1.02,.3,1.04,-.3,1.06,.2,1.08,-.4,1.10,.95,1.12,-.2,1.14,.4,1.16,-.5,1.18,.6,1.20,-.1,1.22,.2,1.24,-.4,1.26,.4,1.28,1.5,1.30,.3,1.32,0,1.34,.75],
[2009,.595,3.0,.60,2.6,.61,2.2,.62,2.5,.63,1.9,.64,1.3,.65,2.6,.66,.9,.67,1.5,.68,2.45,.69,.5,.70,0,.71,-.4,.72,-1.0,.73,.2,.74,-.3,.75,1.45,.76,-.2,.77,0,.78,-.5,.79,.3,.80,-.3,.81,0,.82,-.6,.83,.2,.84,-.4,.85,.1,.86,-.2,.87,.4,.88,-.5,.89,0,.90,-.3,.91,.2,.92,-.4,.93,1.45,.94,-.1,.95,.3,.96,-.5,.97,0,.98,-.3,.99,.4,1.0,-.2,1.02,.5,1.04,-.9,1.06,0,1.08,.3,1.10,-.4,1.12,.2,1.14,.9,1.16,-.3,1.18,.4,1.20,0,1.22,-.2,1.24,.5,1.26,1.0,1.28,.2,1.30,1.45,1.32,-.2,1.34,.3],
[2010,.585,2.3,.59,3.0,.60,2.6,.61,2.95,.62,2.0,.63,2.95,.64,1.5,.65,2.5,.66,1.0,.67,2.0,.68,2.5,.69,.5,.70,1.2,.71,-.3,.72,.3,.73,-.5,.74,0,.75,-.8,.76,.2,.77,-.3,.78,1.65,.79,-.2,.80,.1,.81,-.5,.82,.3,.83,-.2,.84,.5,.85,-.4,.86,0,.87,.3,.88,-.3,.89,.6,.90,-.1,.91,.2,.92,-.4,.93,.4,.94,0,.95,-.3,.96,.3,.97,-.2,.98,.5,.99,-.4,1.0,.2,1.02,-.3,1.04,.4,1.06,-.2,1.08,1.7,1.10,-1.0,1.12,.3,1.14,-.3,1.16,1.3,1.18,.1,1.20,-.4,1.22,.5,1.24,-.2,1.26,.3,1.28,-.3,1.30,.6,1.32,0,1.34,-.3],
[2011,.60,2.5,.61,3.05,.62,2.5,.63,3.0,.645,4.25,.65,3.05,.66,1.3,.67,2.2,.68,1.9,.69,1.5,.70,2.2,.71,2.9,.72,1.9,.73,.4,.74,0,.75,-.7,.76,.3,.77,-.3,.78,-.9,.79,.1,.80,-.5,.81,0,.82,-.8,.83,.2,.84,-.9,.85,-.1,.86,-.6,.87,.3,.88,-.3,.89,-1.0,.90,0,.91,-.5,.92,.2,.93,-.4,.94,-.1,.95,-.7,.96,.3,.97,-.3,.98,0,.99,-.5,1.0,.2,1.02,-.3,1.04,.4,1.06,-.4,1.08,.1,1.10,-.6,1.12,.3,1.14,-.2,1.16,.5,1.18,-.3,1.20,.2,1.22,-.4,1.24,.4,1.26,0,1.28,-.3,1.30,.5,1.32,-.1,1.34,.9,1.36,1.63,1.37,1.3,1.38,.4],
[2012,.59,2.5,.60,2.65,.61,2.5,.62,2.0,.63,2.5,.64,2.8,.65,3.0,.66,2.0,.67,1.5,.68,2.8,.69,1.0,.70,.5,.71,-.4,.72,.2,.73,-.9,.74,0,.75,-.5,.76,.3,.77,-.3,.78,-.7,.79,.1,.80,-.4,.81,0,.82,-.6,.83,.2,.84,-.3,.85,-.8,.86,0,.87,-.4,.88,.3,.89,-.5,.90,-.1,.91,.2,.92,-.6,.93,0,.94,-.3,.95,.4,.96,-.5,.97,0,.98,-.2,.99,.3,1.0,-.6,1.02,.04,1.04,-.3,1.06,.2,1.08,-.4,1.10,2.59,1.12,0,1.14,-.3,1.16,.3,1.18,-.4,1.20,.4,1.22,0,1.24,-.3,1.26,.5,1.28,.1,1.30,-.2,1.32,.3,1.34,0,1.36,-.2],
[2013,.60,3.1,.61,2.7,.62,3.1,.63,2.5,.64,2.9,.65,2.0,.66,2.4,.67,1.5,.68,1.8,.69,1.0,.70,1.3,.71,.3,.72,.8,.73,-.3,.74,.2],
[2013,.84,-.5,.85,0,.86,-.7,.87,.2,.88,-.4,.89,-.8,.90,-.1,.91,-.6,.92,.3,.93,-.3,.94,-.8,.95,0,.96,-.5,.97,-.2,.98,-.7,.99,.1,1.0,-.4,1.01,-.8,1.02,0,1.03,1.15,1.04,-.5,1.05,-.2,1.06,-.7,1.07,.2,1.08,-.4,1.09,-.8,1.10,-.3],
[2013,1.17,0,1.18,-.5,1.19,.3,1.20,-.2,1.21,.5,1.22,-.6,1.23,0,1.24,.4,1.25,-.3,1.26,.2,1.27,-.8,1.28,.3,1.29,-.4,1.30,.1,1.31,.5,1.32,-.2,1.33,.2,1.34,-.5],
[2014,.62,2.0,.63,2.6,.64,2.5,.65,3.4,.66,2.9,.67,2.0,.68,1.5,.69,2.2,.70,1.0,.71,1.3,.72,.8,.73,.5],
[2014,.85,-.3,.86,-.8,.87,0,.88,-.5,.89,.3,.90,-.9,.91,-.2,.92,-.6,.93,.1,.94,-.4,.95,-.8,.96,0,.97,-.5,.98,-.2,.99,-.7,1.0,.2,1.01,-.4,1.02,-.8,1.03,0,1.04,-.3,1.05,-.6,1.06,.3,1.07,-.5,1.08,-.1,1.09,-.8,1.10,0],
[2014,1.18,-.2,1.19,.3,1.20,-.5,1.21,.1,1.22,-.3,1.23,.4,1.24,-.1,1.25,.3,1.26,-.4,1.27,1.26,1.28,0,1.29,.4,1.30,-.2,1.31,2.55,1.32,.3,1.33,-.1,1.34,.2],
[2015,.61,4.1,.62,3.0,.63,2.7,.64,3.2,.645,2.6,.65,2.3,.66,2.6,.67,2.0,.68,1.5,.69,1.2,.70,.8,.71,.5],
[2015,.85,-.4,.86,0,.87,-.7,.88,-.2,.89,.3,.90,-.5,.91,-1.0,.92,-.1,.93,-.6,.94,.2,.95,-.4,.96,-.8,.97,0,.98,-.5,.99,.1,1.0,-.3,1.01,-.6,1.02,.4,1.03,-.2,1.04,-.5,1.05,.2,1.06,-.4,1.07,0,1.08,-.3,1.09,.3,1.10,-.2,1.11,.1],
[2015,1.17,-.1,1.18,.3,1.19,-.4,1.20,.2,1.21,-.2,1.22,.4,1.23,1.1,1.24,0,1.25,.3,1.26,-.3,1.27,.2,1.28,-.1,1.29,.4,1.30,1.0,1.31,-.2,1.32,.3,1.33,0,1.34,-.3],
[2016,.63,3.23,.64,2.6,.645,3.0,.65,1.5,.655,2.0,.66,2.5,.665,2.9,.67,2.0,.675,1.6]
];
const p4All = [
[2007,.07,.46,.08,-.3],[2007,.29,-1.5,.30,.2,.31,-1.5,.33,.92,.34,.4],[2007,.58,2.3,.59,2.0],[2007,.73,.85,.74,.3],[2007,1.35,1.36,1.36,.3],
[2008,.58,3.4,.59,2.8],[2008,.84,1.4,.85,-.5],[2008,1.10,-.6,1.11,-1.5,1.115,8,1.12,.4],[2008,1.34,.75,1.35,.8],
[2009,.78,-.4,.80,-.75],
[2010,.62,3.1,.63,2.5,.64,-1.5],[2010,1.11,1.84,1.12,.3],[2010,1.33,.8,1.34,.2],
[2011,.60,3.3,.61,3.8],[2011,.82,2.4,.83,.3],[2011,1.36,.95,1.37,.3],
[2012,.585,2.65,.59,1.5],[2012,.82,1.37,.83,0],
[2013,.64,4.3,.65,3.0],[2013,1.10,2.14,1.11,-.9],[2013,1.28,1.25,1.29,.3,1.31,3.14,1.32,1.86,1.33,.5],
[2014,.625,-1.5,.63,8,.635,2.5],[2014,1.26,2.0,1.27,1.0,1.29,1.43,1.30,.5],
[2015,.60,1.17,.61,4.1],[2015,.72,-.05,.73,.3],[2015,.84,1.63,.85,.5],[2015,1.27,1.65,1.28,.3,1.33,2.07,1.34,.5],
[2016,.62,.97,.625,-1.5]
];

// Panel 5: Marambio INTA
const p5GB = [
[2015,.24,.1,.25,.3,.26,.5,.27,.2,.28,-.35,.29,.15,.30,.4,.31,0,.32,.5,.33,.3,.34,.49],
[2015,.58,2.83,.59,2.7,.60,1.8,.61,2.2,.62,2.5,.63,1.8,.64,1.0,.65,.5,.66,.3,.67,0],
[2015,.93,.46,.94,.1,.95,-.1,.96,.2,.97,-.3,.98,0,.99,.5]
];
const p5GOME = [
[2015,.24,.2,.25,-.4,.26,.1,.27,-.2,.28,.3,.29,.7,.30,.1,.31,.55,.32,-.1,.33,.4],
[2015,.575,3.5,.58,3.2,.59,3.0,.60,2.6,.61,2.0,.62,2.4,.625,3.01,.63,1.5,.64,1.8,.645,1.0,.65,-.12,.655,.5,.66,.8],
[2015,.89,-.8,.90,-.2,.91,.3,.92,-.6,.93,0,.94,.5,.95,-.4,.96,.81,.97,.2,.98,-.7,.99,.1,1.0,-.3,1.01,-.9]
];
const p5All = [
[2007,.07,.42],
[2007,.19,0,.20,-.35,.21,.1,.22,-.2,.23,.05,.24,-.4,.25,.5,.26,-.1,.27,.3,.28,-.3,.29,0,.30,.55,.31,-.2,.32,.6,.33,.1,.34,.65,.35,.25,.36,.5,.37,.1,.38,.6,.39,.3,.40,.65,.41,.3,.42,2.15,.43,2.3,.44,1.0,.45,3.57,.46,.6],
[2007,.51,1.7,.52,1.55,.53,1.6,.54,-.5,.55,2.45,.56,-.1,.57,1.5,.58,2.6,.59,1.0,.60,2.3,.61,.5,.62,2.45,.63,1.9,.64,-.3,.65,2.3,.66,1.0,.67,-.35,.68,1.5,.69,.2,.70,1.2,.71,.5],
[2007,.88,.7,.89,-.3,.90,.3,.91,-.9,.92,.7,.93,-.4,.94,.1,.95,-.2,.96,.5,.97,-.5,.98,0,.99,-.3,1.0,1.6,1.005,3.0,1.01,.15,1.02,-.45,1.03,-.1,1.04,-.9],
[2008,.20,0,.21,-.2,.22,.3,.23,-.4,.24,.5,.25,0,.26,.75,.27,.3,.28,-.1,.29,.2,.30,0,.31,.6,.32,1.1,.33,.3,.34,.8,.35,.5,.36,1.4,.37,3.4,.38,.35,.39,.8,.40,.2,.41,.6,.42,1.45,.43,.25,.44,.5],
[2008,.49,2.85,.50,4.43,.51,.25,.52,1.0,.53,1.25,.54,1.8,.55,.5,.56,2.55,.57,1.5,.58,3.3,.59,.35,.60,8,.61,2.0,.62,3.4,.63,1.0,.64,2.7,.65,0,.66,1.7,.67,-.3,.68,1.0,.69,.5,.70,.1],
[2008,.88,.05,.89,-.2,.90,.5,.91,3.09,.92,.6,.93,-.2,.94,-.8,.95,.3,.96,-.9,.97,0,.98,-.5,.99,1.2,1.0,-.3,1.01,1.0,1.02,.3,1.03,-.7,1.04,.2,1.05,-.4],
[2009,.19,.45,.20,1.14,.21,0,.22,.3,.23,1.0,.24,-.2,.25,.3,.26,-.95,.27,.4,.28,.2,.29,.7,.30,-.2,.31,.5,.32,.4,.33,.7,.34,.2,.35,2.66,.36,1.0,.37,.4,.38,.6,.39,.1,.40,.65],
[2009,.50,1.4,.51,2.4,.52,2.75,.53,.6,.54,2.25,.55,1.2,.56,.5,.57,2.15,.58,.2,.59,1.8,.60,1.0,.61,2.45,.62,1.5,.63,1.2,.64,-.75,.65,1.7,.66,.5,.67,1.0,.68,.3],
[2009,.87,.3,.88,.8,.89,-.2,.90,1.5,.91,-.35,.92,3.16,.93,1.4,.94,-.9,.95,.5,.96,1.85,.97,-.2,.98,.7,.99,0,1.0,.3,1.01,.7,1.02,-.1,1.03,.2,1.04,1.45,1.05,.5,1.06,-.1],
[2010,.20,.1,.21,.5,.22,.2,.23,-.15,.24,.4,.25,0,.26,1.0,.27,.35,.28,.8,.29,.3,.30,1.3,.31,0,.32,1.6,.33,.6,.34,1.55,.35,.9,.36,1.7,.37,1.0,.38,2.0,.39,1.6,.40,1.0,.41,1.5,.42,3.3,.43,2.0,.44,2.6,.45,1.2],
[2010,.51,.95,.52,2.95,.53,-.05,.54,2.25,.55,2.8,.56,1.5,.57,3.9,.58,.3,.59,2.85,.60,1.7,.61,1.0,.62,2.9,.63,.5,.64,-.1,.65,.9,.66,.6,.67,1.05,.68,.2],
[2010,.88,.8,.89,-.5,.90,-.9,.91,0,.92,.5,.93,-.3,.94,.85,.95,-.7,.96,.2,.97,-.9,.98,.4,.99,-.2,1.0,.95,1.01,.4,1.02,-.6,1.03,.1],
[2011,.19,.25,.20,-.3,.21,.1,.22,1.1,.23,0,.24,.5,.25,1.65,.26,.4,.27,-.45,.28,.3,.29,.8,.30,.45,.31,.2,.32,1.2,.33,.6,.34,1.0,.35,-.5,.36,.4],
[2011,.51,2.1,.52,2.75,.53,1.4,.54,3.0,.55,3.6,.56,2.9,.57,2.7,.58,3.6,.59,2.3,.60,4.0,.61,1.5,.62,2.0,.63,1.2,.64,2.5,.65,.5,.66,1.0,.67,.3,.68,2.6,.69,0,.70,1.0,.71,-.3,.72,.4],
[2011,.88,.45,.89,-.3,.90,2.04,.91,-.9,.92,.4,.93,0,.94,2.57,.95,-.5,.96,.9,.97,-.95,.98,.1,.99,.5],
[2012,.20,.1,.21,-.3,.22,.5,.23,1.2,.24,.3,.25,-.2,.26,.7,.27,1.1,.28,.2,.29,2.0,.30,.5,.31,3.16,.32,.6,.33,0,.34,.8,.35,0,.36,1.0,.37,8,.38,.5],
[2012,.49,1.7,.50,2.0,.51,1.0,.52,2.64,.53,.1,.54,2.1,.55,4.34,.56,2.65,.57,.5,.58,2.5,.59,2.8,.60,1.0,.61,.5,.62,1.5,.63,.3,.64,1.1,.65,-.2],
[2012,.88,-.8,.89,-.5,.90,.7,.91,.5,.92,-.9,.93,0,.94,-.3,.95,.2,.96,1.07,.97,-.1,.98,.5,.99,-.1],
[2013,.19,.3,.20,-.1,.21,.5,.22,0,.23,.8,.24,-.6,.25,.25,.26,1.9,.27,.5,.28,.1,.29,.8,.30,1.3,.31,0,.32,1.3,.33,.5,.34,.1,.35,.3],
[2013,.50,2.57,.51,1.5,.52,8,.53,3.0,.54,1.4,.55,2.8,.56,8,.57,1.0,.58,.8,.59,2.7,.60,1.7,.61,.25,.62,2.4,.63,1.0],
[2013,.89,-.8,.90,.48,.91,1.11,.92,0,.93,-.1,.94,.8,.95,-.8,.96,.3,.97,1.37,.98,.2,.99,-.8,1.0,.3,1.02,.8,1.04,-.3],
[2014,.22,-.5,.23,0,.24,.3,.25,-.2,.26,.7,.27,0,.28,2.04,.29,.5,.30,2.08,.31,-.2,.32,1.7,.33,.5,.34,.3],
[2014,.51,1.25,.52,2.2,.53,4.13,.54,1.52,.55,.5,.56,3.16,.57,2.8,.58,1.4,.59,.9,.60,.4,.61,.55,.62,.1],
[2014,.88,.5,.89,-.9,.90,-.2,.91,.4,.92,1.55,.93,0,.94,.2,.95,-.9,.96,2.53,.97,.3],
[2015,.34,.5,.35,2.18,.36,.5,.39,1.15,.40,-1.5],[2015,.545,.5,.55,8,.555,3.95],[2015,.89,1.93,.90,.5],[2015,1.0,1.19,1.005,.3],
[2016,.24,.1,.25,.5,.26,-.2,.27,.7,.28,1.45,.29,1.0,.30,.2,.31,.4,.32,-.5,.33,.1,.34,2.34,.35,.3],
[2016,.52,-.72,.53,8,.54,2.0,.55,3.24,.56,1.0,.57,1.5,.58,.4,.59,2.3,.60,3.2,.61,2.5,.62,.6,.63,1.3,.64,.3,.65,1.45,.66,.8]
];

// ---------- RENDER ----------
const PINK = "#ff9c9c", RED = "#ff0000", BLACK = "#000000";
function rows(segs){const out=[];segs.forEach((s,k)=>{for(let i=1;i<s.length;i+=2) out.push({t:s[0]+s[i], v:s[i+1], k});});return out;}
const quarters = years.flatMap(y=>[0,1,2,3].map(q=>y+q/4));
const innerQuarters = quarters.filter(d=>Math.abs(d%1)>1e-6).concat([2017]);
const fmtY = d => d<0 ? "\u2212"+Math.abs(d) : String(d);
const fmtX = d => monthLabels[Math.round((d - Math.floor(d))*4)%4];

const panels = [
 {title:"ArrivalHeights(NIWA) NIWA [\u221278\u00b0]", gbName:"GB  NIWA", gb:p1GB, red:p1GOME, pink:p1All, yMax:6.5, yearY:6, H:330, mt:54, mb:30, ml:61.5, mr:3, xr:[61.5,869.5], tp:10, tdx:-4, tdy:-30},
 {title:"ArrivalHeights IUPH [\u221278\u00b0]", gbName:"GB  IUPH", gb:p2GB, red:p2GOME, pink:p2All, yMax:6.5, yearY:6, H:320, mt:46, mb:27, ml:61.5, mr:3, xr:[61.5,869.5], tp:7, tdx:-4, tdy:-30},
 {title:"Belgrano INTA [\u221278\u00b0]", gbName:"GB  INTA", gb:p3GB, red:p3GOME, pink:p3All, yMax:4.5, yearY:4, H:325, mt:45, mb:35, ml:61.5, mr:3, xr:[61.5,869.5], tp:10, tdx:-4, tdy:-31},
 {title:"Neumayer IUPH [\u221271\u00b0]", gbName:"GB  IUPH", gb:p4GB, red:p4GOME, pink:p4All, yMax:6.5, yearY:6, H:330, mt:48, mb:36, ml:68.5, mr:0, xr:[68.5,876.5], tp:10, tdx:0, tdy:-30},
 {title:"Marambio INTA [\u221264\u00b0]", gbName:"GB  INTA", gb:p5GB, red:p5GOME, pink:p5All, yMax:4.5, yearY:4, H:313, mt:45, mb:22, ml:69, mr:0, xr:[69,878], tp:6, tdx:0, tdy:-29}
];

const root = document.getElementById("chart");
panels.forEach(c=>{
  const W = 872, fw = W - c.ml - c.mr, fh = c.H - c.mt - c.mb;
  const yTicks = d3.range(-1, Math.floor(c.yMax)+1);
  const pk = rows(c.pink), gb = rows(c.gb), rd = rows(c.red);
  const svg = Plot.plot({
    width: W, height: c.H, marginLeft: c.ml, marginRight: c.mr, marginTop: c.mt, marginBottom: c.mb,
    x: {domain:[2007,2017], range:c.xr, axis:null},
    y: {domain:[-1,c.yMax], axis:null},
    style: {fontFamily:"DejaVu Sans, sans-serif", fontSize:"13px", background:"#fff", color:"#111"},
    marks: [
      Plot.gridY(yTicks, {stroke:"#d4d4d4", strokeOpacity:1, strokeWidth:2}),
      Plot.gridX(innerQuarters, {stroke:"#d4d4d4", strokeOpacity:1, strokeWidth:2}),
      Plot.ruleX(years.slice(1), {stroke:"#111", strokeWidth:1}),
      Plot.line(pk, {x:"t", y:"v", z:"k", stroke:PINK, strokeWidth:1, clip:true}),
      Plot.dot(pk, {x:"t", y:"v", r:2.9, fill:PINK, clip:true}),
      Plot.line(gb, {x:"t", y:"v", z:"k", stroke:BLACK, strokeWidth:1, strokeDasharray:"3,2", clip:true}),
      Plot.dot(gb, {x:"t", y:"v", r:2.9, fill:BLACK, clip:true}),
      Plot.line(rd, {x:"t", y:"v", z:"k", stroke:RED, strokeWidth:1.1, clip:true}),
      Plot.dot(rd, {x:"t", y:"v", r:2.9, fill:RED, clip:true}),
      Plot.tickX(innerQuarters.filter(d=>d<2017), {stroke:"#111", strokeWidth:2, insetTop: fh-5}),
      Plot.tickY(yTicks, {stroke:"#111", strokeWidth:1.5, insetRight: fw-6}),
      Plot.ruleY([-1], {stroke:"#222", strokeWidth:2.5}),
      Plot.ruleX([2007], {stroke:"#222", strokeWidth:2}),
      Plot.axisX(quarters, {tickSize:0, tickPadding:c.tp, tickFormat:fmtX, fontSize:13.5, color:"#222", label:null}),
      Plot.axisY(yTicks, {tickSize:0, tickPadding:8, tickFormat:fmtY, fontSize:15, color:"#222", label:null}),
      Plot.text(years, {x:d=>d+0.5, y:()=>c.yearY, text:d=>String(d), dx:-7, fontSize:16.5, fill:"#111"}),
      Plot.text([c.gbName], {x:()=>2007.33, y:()=>c.yMax-1, text:d=>d, textAnchor:"start", fontSize:11.5, fill:"#111"}),
      Plot.text(["GOME-2A"], {x:()=>2007.33, y:()=>c.yMax-1.5, text:d=>d, textAnchor:"start", fontSize:11.5, fill:RED}),
      Plot.text([c.title], {frameAnchor:"top", dx:c.tdx, dy:c.tdy, text:d=>d, lineAnchor:"middle", fontSize:19, fontWeight:"bold", fill:"#111"})
    ]
  });
  const s = d3.select(svg);
  const lab = s.append("text")
    .attr("transform", `translate(${c.ml-35},${(c.mt + c.H - c.mb)/2}) rotate(-90)`)
    .attr("text-anchor","middle").attr("font-size",15).attr("fill","#222")
    .attr("font-family","DejaVu Sans, sans-serif");
  lab.append("tspan").text("OClO SCD [x10");
  lab.append("tspan").attr("dy",-6).attr("font-size",11).text("14");
  lab.append("tspan").attr("dy",6).text(" molec/cm");
  lab.append("tspan").attr("dy",-6).attr("font-size",11).text("2");
  lab.append("tspan").attr("dy",6).text("]");
  root.appendChild(svg);
});
</script>
</body></html>
